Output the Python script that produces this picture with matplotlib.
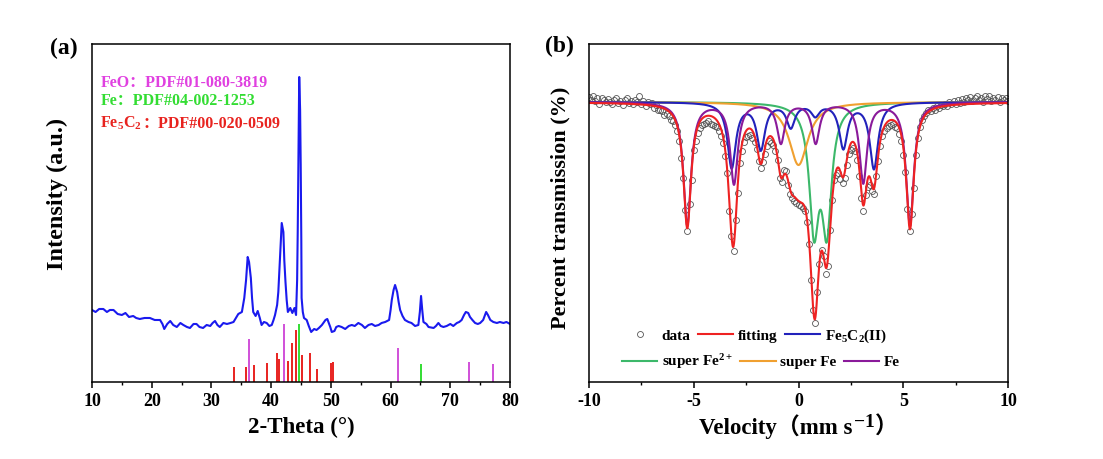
import numpy as np
import matplotlib
matplotlib.use("Agg")
import matplotlib.pyplot as plt
from matplotlib.lines import Line2D
from matplotlib.offsetbox import TextArea, HPacker, AnnotationBbox

plt.rcParams['font.family'] = ['Liberation Serif', 'Noto Sans CJK SC']
plt.rcParams['font.weight'] = 'bold'
plt.rcParams['axes.labelweight'] = 'bold'
plt.rcParams['axes.unicode_minus'] = False
plt.rcParams['mathtext.fontset'] = 'custom'
plt.rcParams['mathtext.rm'] = 'Liberation Serif:bold'
plt.rcParams['mathtext.bf'] = 'Liberation Serif:bold'
plt.rcParams['mathtext.it'] = 'Liberation Serif:bold:italic'
plt.rcParams['mathtext.default'] = 'rm'

# ---- (a) XRD pattern ----
two_theta = [10.0, 10.6, 11.2, 11.9, 12.5, 13.0, 13.6, 14.3, 15.0, 15.6, 16.2, 16.9, 17.4, 18.0,
             18.8, 19.7, 20.5, 21.4, 21.8, 22.1, 22.6, 23.1, 23.6, 24.2, 24.8, 25.3, 25.9, 26.4,
             27.0, 27.5, 28.0, 28.6, 29.2, 29.8, 30.2, 30.6, 31.0, 31.4, 32.0, 32.6, 33.2, 33.7,
             34.1, 34.5, 35.1, 35.5, 35.8, 36.07, 36.3, 36.6, 36.8, 37.0, 37.4, 37.75, 38.1, 38.4,
             38.8, 39.25, 39.7, 40.1, 40.4, 40.65, 41.0, 41.2, 41.5, 41.77, 42.05, 42.2, 42.4, 42.6,
             42.8, 43.2, 43.55, 43.9, 44.17, 44.35, 44.45, 44.6, 44.7, 44.85, 44.95, 45.05, 45.1,
             45.3, 45.5, 45.95, 46.3, 46.7, 47.2, 47.6, 48.0, 48.5, 49.1, 49.4, 49.9, 50.15, 50.6,
             50.9, 51.3, 51.8, 52.4, 53.0, 53.5, 54.0, 54.6, 55.2, 55.7, 56.3, 56.85, 57.4, 58.0,
             58.5, 59.1, 59.75, 60.0, 60.2, 60.5, 60.75, 61.1, 61.35, 61.6, 62.0, 62.4, 63.0, 63.5,
             64.1, 64.65, 64.9, 65.1, 65.3, 65.5, 66.0, 66.35, 67.2, 67.6, 68.0, 68.4, 68.85, 69.4,
             70.0, 70.5, 71.1, 71.5, 71.9, 72.3, 72.6, 73.0, 73.3, 73.7, 74.15, 74.6, 75.0, 75.5,
             76.0, 76.3, 76.7, 77.2, 77.8, 78.3, 78.9, 79.4, 80.0]
intensity = [72, 70, 73, 73, 70, 72, 72, 68, 67, 69, 65, 66, 64, 63,
             64, 64, 62, 62, 58, 53, 58, 61, 57, 55, 59, 57, 55, 54,
             58, 58, 55, 54, 57, 56, 59, 61, 57, 55, 59, 58, 59, 60,
             64, 68, 70, 84, 102, 125, 120, 104, 84, 70, 66, 71, 64, 57,
             60, 59, 56, 57, 62, 67, 77, 90, 127, 159, 150, 122, 100, 82,
             70, 74, 69, 74, 67, 102, 150, 242, 305, 272, 217, 142, 84,
             70, 64, 62, 56, 50, 53, 52, 54, 57, 62, 63, 55, 50, 51,
             55, 56, 55, 53, 56, 57, 56, 59, 57, 54, 57, 58, 56, 57,
             59, 60, 62, 72, 82, 92, 97, 90, 80, 72, 66, 62, 60, 59,
             56, 57, 70, 86, 72, 60, 58, 55, 54, 56, 59, 56, 55, 56,
             58, 56, 59, 60, 62, 67, 70, 69, 65, 62, 59, 58, 59, 62,
             70, 67, 62, 60, 59, 60, 59, 60, 58]

feo_pos = [36.3, 42.2, 61.2, 73.2, 77.1]
feo_h = [43, 58, 34, 20, 18]
fe_pos = [44.7, 65.1]
fe_h = [58, 18]
fe5c2_pos = [33.8, 35.8, 37.1, 39.35, 40.9, 41.25, 42.8, 43.55, 44.2, 45.1, 46.5, 47.6, 50.1, 50.3]
fe5c2_h = [15, 15, 17, 19, 29, 23, 21, 39, 52, 27, 29, 13, 19, 20]

# ---- (b) Mossbauer spectrum: measured points (transmission %, -10..10 mm/s) ----
trans = [100.25, 100.10, 100.32, 100.05, 100.18, 99.92, 100.22, 100.08, 99.98, 100.15,
         100.02, 99.88, 100.12, 100.20, 99.95, 100.05, 99.85, 100.10, 100.22, 99.96,
         100.06, 99.90, 100.12, 99.98, 100.28, 99.90, 100.05, 99.82, 99.98, 99.90,
         99.95, 99.72, 99.84, 99.62, 99.58, 99.55, 99.35, 99.42, 99.30, 99.10,
         99.05, 98.85, 98.55, 98.05, 97.20, 96.20, 94.60, 93.55, 94.90, 96.10,
         97.60, 98.05, 98.45, 98.70, 98.85, 98.90, 98.95, 99.05, 98.92, 98.85,
         98.80, 98.75, 98.55, 98.30, 97.95, 97.30, 96.45, 94.55, 93.30, 92.55,
         94.10, 95.45, 96.95, 97.55, 98.00, 98.25, 98.30, 98.35, 98.20, 98.00,
         97.65, 97.05, 96.70, 97.00, 97.40, 97.80, 98.05, 97.95, 97.85, 97.55,
         97.10, 96.20, 96.00, 96.60, 96.55, 95.85, 95.40, 95.20, 95.05, 94.95,
         94.85, 94.80, 94.70, 94.55, 94.00, 92.90, 91.10, 89.60, 88.95, 90.50,
         91.90, 92.60, 92.30, 91.40, 91.80, 93.60, 95.10, 96.10, 96.35, 96.45,
         96.15, 95.95, 96.20, 96.85, 97.40, 97.60, 97.70, 97.55, 97.10, 96.30,
         95.20, 94.55, 95.35, 95.75, 95.85, 95.55, 95.40, 96.30, 97.05, 97.80,
         98.30, 98.55, 98.70, 98.80, 98.85, 98.90, 98.75, 98.70, 98.40, 98.05,
         97.35, 96.50, 94.65, 93.55, 94.40, 95.70, 97.35, 98.20, 98.75, 99.10,
         99.30, 99.45, 99.60, 99.55, 99.70, 99.62, 99.80, 99.72, 99.85, 99.78,
         99.90, 99.82, 100.00, 99.88, 100.05, 99.92, 100.10, 99.95, 100.15, 100.02,
         100.20, 100.08, 100.25, 100.05, 100.18, 100.30, 100.10, 100.22, 100.02, 100.28,
         100.15, 100.32, 100.05, 100.20, 100.10, 100.25, 100.00, 100.18, 100.08, 100.22,
         100.05]
velocity = np.linspace(-10, 10, len(trans))

# fit components: line positions (mm/s), depths (%), half widths (mm/s)
fe_lines = [-5.31, -3.08, -0.84, 0.82, 3.09, 5.32]
fe_depth = [6.15, 4.05, 2.0, 2.0, 4.0, 6.15]
fe5c2_lines = [-3.19, -1.80, -0.37, 0.80, 2.14, 3.60]
fe5c2_depth = [3.25, 2.3, 1.2, 0.6, 2.25, 3.3]
sfe2_lines = [0.74, 1.35]
sfe2_depth = [6.0, 6.0]
sfe_lines = [0.0]
sfe_depth = [3.15]
hw_fe, hw_fe5c2, hw_sfe2, hw_sfe = 0.22, 0.24, 0.275, 0.55

c_mag = '#e040e0'
c_grn = '#33dd33'
c_red = '#e8231f'


def absorb(v, lines, depth, hw):
    out = np.zeros_like(v)
    for p, d in zip(lines, depth):
        out += d / (1 + ((v - p) / hw) ** 2)
    return out


def rich(ax, parts, sizes, xy, color, align):
    areas = [TextArea(s, textprops=dict(fontsize=fs, color=color, fontweight='bold'))
             for s, fs in zip(parts, sizes)]
    box = HPacker(children=areas, align='baseline', pad=0, sep=0)
    ab = AnnotationBbox(box, xy, xycoords='axes fraction', frameon=False, box_alignment=align, pad=0)
    ax.add_artist(ab)


fig = plt.figure(figsize=(11.03, 4.59), dpi=100)
ax1 = fig.add_axes([0.0834, 0.1678, 0.379, 0.7363])
ax2 = fig.add_axes([0.534, 0.1678, 0.3799, 0.7363])

ax1.plot(two_theta, intensity, color='#1a1aee', lw=1.5)
ax1.vlines(fe5c2_pos, 0, fe5c2_h, color=c_red, lw=1.4)
ax1.vlines(feo_pos, 0, feo_h, color='#d050d8', lw=1.4)
ax1.vlines(fe_pos, 0, fe_h, color=c_grn, lw=1.4)
ax1.set_xlim(10, 80)
ax1.set_ylim(0, 338)
ax1.set_xticks(range(10, 81, 10))
ax1.set_xticks(range(15, 80, 10), minor=True)
ax1.set_yticks([])
ax1.set_xlabel('2-Theta (°)', fontsize=16.5, labelpad=5)
ax1.set_ylabel('Intensity (a.u.)', fontsize=17.5)
ax1.yaxis.set_label_coords(-0.057, 0.556)
ax1.text(0.02, 0.885, 'FeO：PDF#01-080-3819', color=c_mag, fontsize=11.5, transform=ax1.transAxes, va='center')
ax1.text(0.02, 0.83, 'Fe：PDF#04-002-1253', color=c_grn, fontsize=11.5, transform=ax1.transAxes, va='center')
rich(ax1, ['Fe$_5$C$_2$', '：PDF#00-020-0509'], [11.5, 11.5], (0.02, 0.765), c_red, (0, 0.5))

v = np.linspace(-10, 10, 2001)
a_fe = absorb(v, fe_lines, fe_depth, hw_fe)
a_c = absorb(v, fe5c2_lines, fe5c2_depth, hw_fe5c2)
a_g = absorb(v, sfe2_lines, sfe2_depth, hw_sfe2)
a_o = absorb(v, sfe_lines, sfe_depth, hw_sfe)

ax2.plot(velocity, trans, 'o', mfc='none', mec='#555555', ms=4.3, mew=0.6)
ax2.plot(v, 100 - a_g, color='#3cb86a', lw=1.5)
ax2.plot(v, 100 - a_o, color='#f0a030', lw=1.5)
ax2.plot(v, 100 - a_c, color='#2222bb', lw=1.5)
ax2.plot(v, 100 - a_fe, color='#8a1a9a', lw=1.5)
ax2.plot(v, 100 - a_fe - a_c - a_g - a_o, color='#ee2222', lw=1.5)
ax2.set_xlim(-10, 10)
ax2.set_ylim(86.0, 102.9)
ax2.set_xticks([-10, -5, 0, 5, 10])
ax2.set_xticks([-7.5, -2.5, 2.5, 7.5], minor=True)
ax2.set_yticks([])
rich(ax2, ['Velocity（mm s', '$^{-1}$', '）'], [16.5, 20, 16.5], (0.5, -0.095), 'black', (0.5, 1))
ax2.set_ylabel('Percent transmission (%)', fontsize=16)
ax2.yaxis.set_label_coords(-0.045, 0.515)

h1 = [Line2D([], [], ls='none', marker='o', mfc='none', mec='#555555', ms=4.3, mew=0.6),
      Line2D([], [], color='#ee2222', lw=1.5),
      Line2D([], [], color='#2222bb', lw=1.5)]
h2 = [Line2D([], [], color='#3cb86a', lw=1.5),
      Line2D([], [], color='#f0a030', lw=1.5),
      Line2D([], [], color='#8a1a9a', lw=1.5)]
kw = dict(loc='center left', ncol=3, frameon=False, fontsize=11, handlelength=2.3,
          handletextpad=0.3, columnspacing=0.5, borderpad=0, borderaxespad=0)
leg1 = ax2.legend(h1, ['data', 'fitting', 'Fe$_5$C$_2$(II)'], bbox_to_anchor=(0.079, 0.136), **kw)
ax2.add_artist(leg1)
ax2.legend(h2, ['super Fe$^{2+}$', 'super Fe', 'Fe'], bbox_to_anchor=(0.079, 0.060), **kw)

for ax in (ax1, ax2):
    for s in ax.spines.values():
        s.set_linewidth(1.1)
    ax.tick_params(axis='x', which='major', direction='out', length=4, width=1.1, labelsize=13, pad=4)
    ax.tick_params(axis='x', which='minor', direction='out', length=2.4, width=1.0)
    ax.tick_params(axis='y', length=0)

fig.text(50 / 1103, 0.895, '(a)', fontsize=17, va='center', ha='left')
fig.text(545 / 1103, 0.899, '(b)', fontsize=17, va='center', ha='left')

fig.savefig('out.png', dpi=100)
